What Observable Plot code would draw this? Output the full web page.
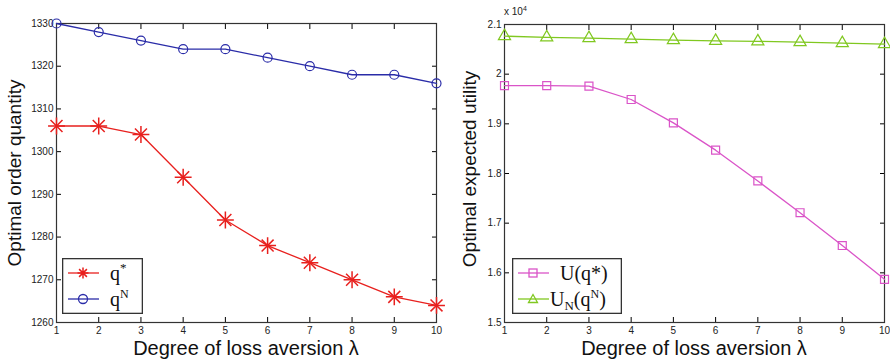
<!DOCTYPE html>
<html><head><meta charset="utf-8">
<script src="https://cdn.jsdelivr.net/npm/d3@7"></script>
<script src="https://cdn.jsdelivr.net/npm/@observablehq/plot@0.6"></script>
<style>
body{margin:0;background:#fff;}
#wrap{position:relative;width:890px;height:362px;font-family:"Liberation Sans",Arial,sans-serif;}
#wrap svg.plot{position:absolute;top:0;}
.lab{position:absolute;font-size:20px;line-height:20px;color:#111;white-space:nowrap;text-align:center;}
.ylab{position:absolute;font-size:19px;line-height:19px;color:#111;white-space:nowrap;transform-origin:0 0;transform:rotate(-90deg);width:204px;text-align:center;}
</style>
</head><body>
<div id="wrap"></div>
<script>
const lambda = [1,2,3,4,5,6,7,8,9,10];
const qStar = [1306,1306,1304,1294,1284,1278,1274,1270,1266,1264];
const qN = [1330,1328,1326,1324,1324,1322,1320,1318,1318,1316];
const UqStar = [19770,19768,19760,19490,19020,18470,17850,17210,16550,15870];
const UNqN = [20766,20740,20726,20705,20685,20670,20660,20645,20625,20605];
const xTicks = [1,2,3,4,5,6,7,8,9,10];
const yTicksL = [1260,1270,1280,1290,1300,1310,1320,1330];
const yTicksR = [15000,16000,17000,18000,19000,20000,21000];

const RED = "rgb(232,32,30)", BLUE = "rgb(42,44,168)", PINK = "rgb(218,84,200)", GREEN = "rgb(128,200,32)";

function axes(yTicks, fmt){
  const common = {fontSize: 10, fill:"#222"};
  return [
    Plot.axisX({ticks: xTicks, tickSize: -5, tickPadding: 9, tickFormat: d=>String(d), ...common, label:null}),
    Plot.axisX({anchor:"top", ticks: xTicks, tickSize: -5, tickFormat: ()=>"", label:null}),
    Plot.axisY({ticks: yTicks, tickSize: -5, tickPadding: 8, tickFormat: fmt, ...common, label:null}),
    Plot.axisY({anchor:"right", ticks: yTicks, tickSize: -5, tickFormat: ()=>"", label:null}),
    Plot.frame({stroke:"#333", strokeWidth:1.2})
  ];
}

const dL = lambda.map((l,i)=>({l, a:qStar[i], b:qN[i]}));
const left = Plot.plot({
  width:445, height:362, marginLeft:56, marginRight:9, marginTop:23, marginBottom:40,
  x:{domain:[1,10]}, y:{domain:[1260,1330]},
  style:{background:"transparent", fontFamily:"Liberation Sans, Arial, sans-serif"},
  marks:[
    ...axes(yTicksL, d=>String(d)),
    Plot.line(dL,{x:"l",y:"b",stroke:BLUE,strokeWidth:1.3}),
    Plot.dot(dL,{x:"l",y:"b",stroke:BLUE,r:4.5,strokeWidth:1.2}),
    Plot.line(dL,{x:"l",y:"a",stroke:RED,strokeWidth:1.3}),
    Plot.dot(dL,{x:"l",y:"a",stroke:RED,symbol:"plus",r:5.5,strokeWidth:1.5}),
    Plot.dot(dL,{x:"l",y:"a",stroke:RED,symbol:"times",r:5.5,strokeWidth:1.5})
  ]
});
const dR = lambda.map((l,i)=>({l, a:UqStar[i], b:UNqN[i]}));
const right = Plot.plot({
  width:445, height:362, marginLeft:59, marginRight:6, marginTop:24, marginBottom:40,
  x:{domain:[1,10]}, y:{domain:[15000,21000]},
  style:{background:"transparent", fontFamily:"Liberation Sans, Arial, sans-serif"},
  marks:[
    ...axes(yTicksR, d=>d3.format("~g")(d/1e4)),
    Plot.line(dR,{x:"l",y:"b",stroke:GREEN,strokeWidth:1.3}),
    Plot.dot(dR,{x:"l",y:"b",stroke:GREEN,symbol:"triangle",r:4.5,strokeWidth:1.2}),
    Plot.line(dR,{x:"l",y:"a",stroke:PINK,strokeWidth:1.3}),
    Plot.dot(dR,{x:"l",y:"a",stroke:PINK,symbol:"square",r:4.5,strokeWidth:1.2})
  ]
});
const wrap = document.getElementById("wrap");
left.classList.add("plot"); right.classList.add("plot");
left.style.left="0px"; right.style.left="445px";
wrap.append(left, right);

function addHTML(html){ wrap.insertAdjacentHTML("beforeend", html); }
addHTML(`<div class="lab" style="left:56px;width:380px;top:338px;">Degree of loss aversion λ</div>`);
addHTML(`<div class="lab" style="left:504px;width:380px;top:338px;">Degree of loss aversion λ</div>`);
addHTML(`<div class="ylab" style="left:5px;top:275px;">Optimal order quantity</div>`);
addHTML(`<div class="ylab" style="left:460px;top:275px;width:212px">Optimal expected utility</div>`);
addHTML(`<div style="position:absolute;left:504px;top:5px;font-size:10px;color:#222">x 10<sup style="font-size:7px">4</sup></div>`);

function legend(x,y,w,h,items){
  const rows = items.map((it,i)=>{
    const cy = 15 + i*26;
    return `<line x1="6" x2="37" y1="${cy}" y2="${cy}" stroke="${it.c}" stroke-width="1.3"/>
      <g transform="translate(21,${cy})" stroke="${it.c}" fill="none" stroke-width="1.3">${it.m}</g>
      <text x="${it.tx}" y="${cy+7}" font-family="Liberation Serif, Times New Roman, serif" font-size="20" fill="#111">${it.t}</text>`;
  }).join("");
  addHTML(`<svg style="position:absolute;left:${x}px;top:${y}px" width="${w}" height="${h}"><rect x="0.65" y="0.65" width="${w-1.3}" height="${h-1.3}" fill="#fff" stroke="#333" stroke-width="1.3"/>${rows}</svg>`);
}
const star = `<path d="M-5.5,0H5.5M0,-5.5V5.5M-3.9,-3.9L3.9,3.9M-3.9,3.9L3.9,-3.9" stroke-width="1.5"/>`;
legend(62,258,81,56,[
  {c:RED,m:star,t:`q<tspan dy="-8" font-size="13">*</tspan>`,tx:48},
  {c:BLUE,m:`<circle r="4.5"/>`,t:`q<tspan dy="-8" font-size="12">N</tspan>`,tx:48}
]);
legend(512,258,110,56,[
  {c:PINK,m:`<rect x="-4" y="-4" width="8" height="8"/>`,t:`U(q*)`,tx:48},
  {c:GREEN,m:`<path d="M0,-4.5L4.5,3.5H-4.5Z"/>`,t:`U<tspan dy="4" font-size="13">N</tspan><tspan dy="-4">(q</tspan><tspan dy="-8" font-size="12">N</tspan><tspan dy="8">)</tspan>`,tx:38}
]);
</script>
</body></html>
